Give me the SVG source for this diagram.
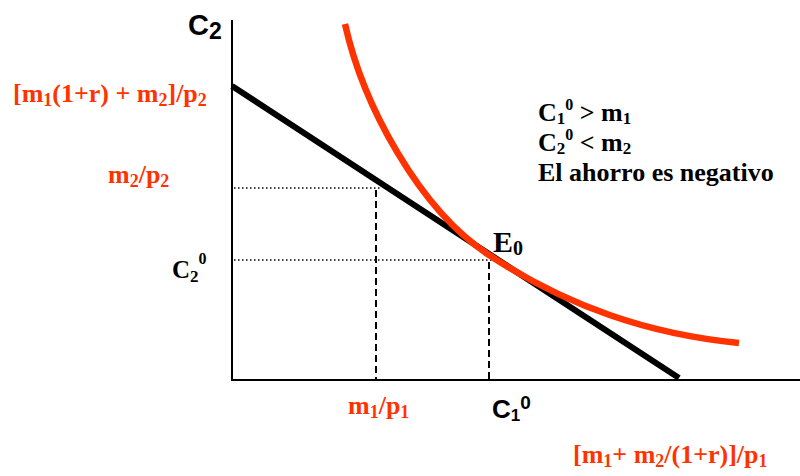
<svg xmlns="http://www.w3.org/2000/svg" width="800" height="476" viewBox="0 0 800 476">
<style>
.serif{font-family:"Liberation Serif","Times New Roman",serif;font-weight:bold}
.sans{font-family:"Liberation Sans",Arial,sans-serif;font-weight:bold}
.red{fill:#ff3300}
.blk{fill:#000}
.axis{stroke:#000;stroke-width:2;fill:none}
.dot{stroke:#000;stroke-width:1.5;stroke-dasharray:1.5 2.5;fill:none}
.dash{stroke:#000;stroke-width:2;stroke-dasharray:7 4;fill:none}
</style>
<rect width="800" height="476" fill="#fff"/>
<g id="axes">
<line class="axis" x1="232" y1="20" x2="232" y2="381"/>
<line class="axis" x1="231" y1="380" x2="800" y2="380"/>
</g>
<g id="connectors">
<line class="dot" x1="234" y1="188" x2="380" y2="188"/>
<line class="dot" x1="234" y1="260" x2="492" y2="260"/>
<line class="dash" x1="376" y1="190" x2="376" y2="379"/>
<line class="dash" x1="489" y1="262" x2="489" y2="379"/>
</g>
<g id="budget-line">
<line x1="232" y1="86" x2="679" y2="378" stroke="#000" stroke-width="6"/>
</g>
<g id="indifference-curve">
<path d="M345,24 C363,105 419,209.2 489,255 C569,307.3 649,334 739,343" fill="none" stroke="#ff3300" stroke-width="6.5"/>
</g>
<g id="label-c2-axis">
<text class="sans blk" x="188" y="35" font-size="29">C<tspan font-size="23" dy="4">2</tspan></text>
</g>
<g id="label-intercept-c2">
<text class="serif red" x="13" y="102" font-size="26">[m<tspan font-size="18" dy="4">1</tspan><tspan dy="-4">(1+r) + m</tspan><tspan font-size="18" dy="4">2</tspan><tspan dy="-4">]/p</tspan><tspan font-size="18" dy="4">2</tspan></text>
</g>
<g id="label-m2p2">
<text class="serif red" x="108" y="183" font-size="26">m<tspan font-size="18" dy="4">2</tspan><tspan dy="-4">/p</tspan><tspan font-size="18" dy="4">2</tspan></text>
</g>
<g id="label-c20">
<text class="serif blk" x="172" y="278" font-size="25">C<tspan font-size="17" dy="4">2</tspan><tspan font-size="16" dy="-18">0</tspan></text>
</g>
<g id="label-m1p1">
<text class="serif red" x="348" y="414" font-size="26">m<tspan font-size="18" dy="4">1</tspan><tspan dy="-4">/p</tspan><tspan font-size="18" dy="4">1</tspan></text>
</g>
<g id="label-c10">
<text class="sans blk" x="492" y="418" font-size="26">C<tspan font-size="17" dy="3">1</tspan><tspan font-size="19" dy="-12">0</tspan></text>
</g>
<g id="label-intercept-c1">
<text class="serif red" x="573" y="463" font-size="26">[m<tspan font-size="18" dy="4">1</tspan><tspan dy="-4">+ m</tspan><tspan font-size="18" dy="4">2</tspan><tspan dy="-4">/(1+r)]/p</tspan><tspan font-size="18" dy="4">1</tspan></text>
</g>
<g id="label-e0">
<text class="serif blk" x="493" y="252" font-size="30">E<tspan font-size="20" dy="3">0</tspan></text>
</g>
<g id="note">
<text class="serif blk" x="538" y="121" font-size="26">C<tspan font-size="17" dy="3">1</tspan><tspan font-size="16" dy="-14">0</tspan><tspan dy="11"> &gt; m</tspan><tspan font-size="17" dy="3">1</tspan></text>
<text class="serif blk" x="538" y="151" font-size="26">C<tspan font-size="17" dy="3">2</tspan><tspan font-size="16" dy="-14">0</tspan><tspan dy="11"> &lt; m</tspan><tspan font-size="17" dy="3">2</tspan></text>
<text class="serif blk" x="538" y="181" font-size="26">El ahorro es negativo</text>
</g>
</svg>
